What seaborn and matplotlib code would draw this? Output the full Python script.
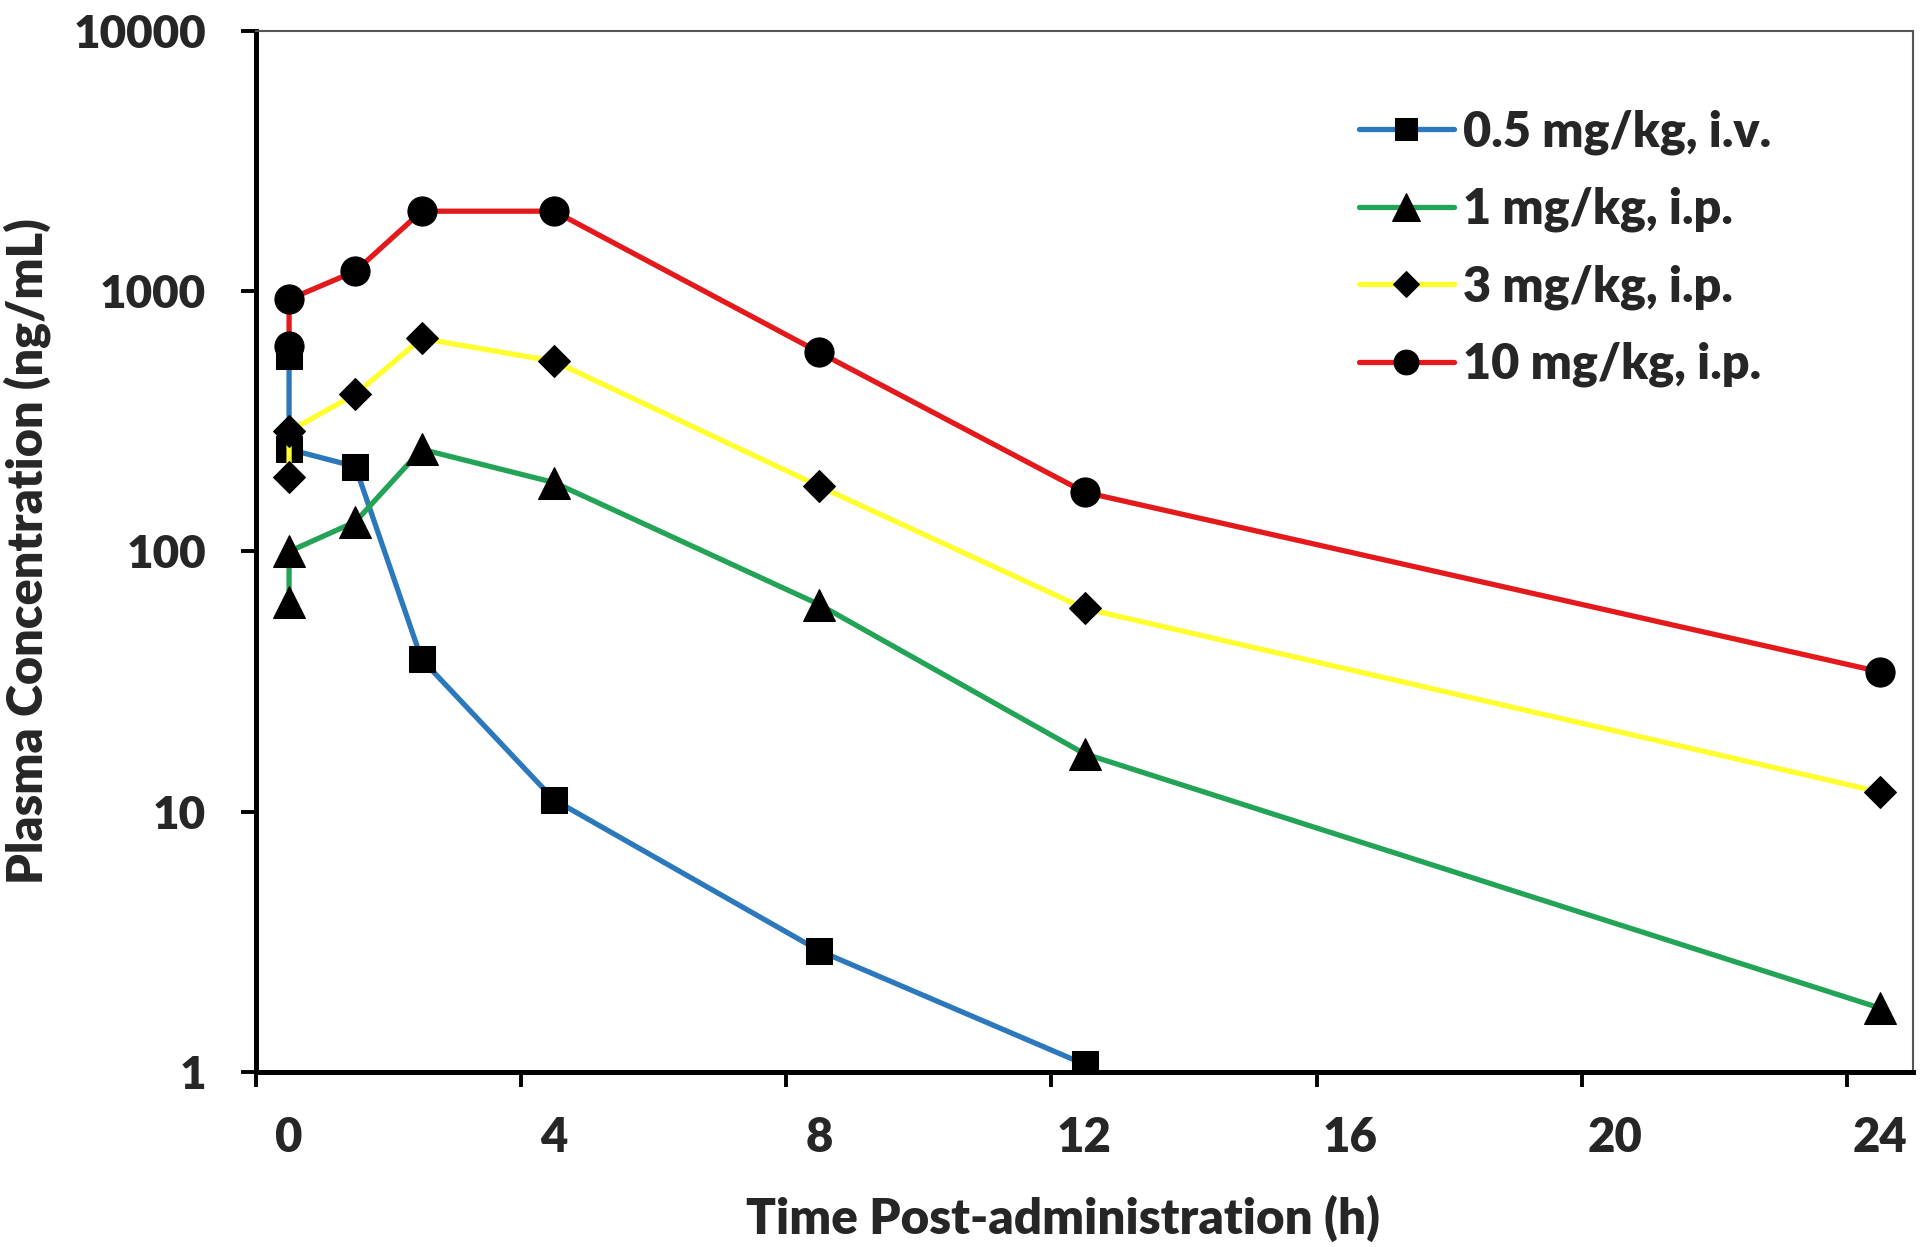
import numpy as np
import pandas as pd
import matplotlib
matplotlib.use("Agg")
import matplotlib.pyplot as plt
import seaborn as sns
from matplotlib.ticker import FixedLocator, NullFormatter

# sampling times (h); the two earliest samples sit at the same spot on the axis
time_iv = [0, 0, 1, 2, 4, 8, 12]
time_ip = [0, 0, 1, 2, 4, 8, 12, 24]

# plasma concentration (ng/mL)
conc_05_iv = [562, 247, 212, 38.5, 11.1, 2.92, 1.07]
conc_1_ip = [64, 100, 130, 247, 184, 62.5, 16.7, 1.76]
conc_3_ip = [193, 290, 402, 659, 538, 178, 60.4, 11.9]
conc_10_ip = [614, 931, 1194, 2031, 2031, 582, 169, 34.5]

labels = ["0.5 mg/kg, i.v.", "1 mg/kg, i.p.", "3 mg/kg, i.p.", "10 mg/kg, i.p."]
colors = ["#2B78BD", "#22A356", "#FFFF30", "#E3191C"]
markers = ["s", "^", "D", "o"]
msizes = [19, 23, 16, 21]

x_labels = ["0", "4", "8", "12", "16", "20", "24"]
y_ticks = [1, 10, 100, 1000, 10000]

sns.set_theme(style="white")
plt.rcParams["font.family"] = ["Lato", "DejaVu Sans"]
plt.rcParams["font.weight"] = "bold"

def main():
    fig = plt.figure(figsize=(19.2, 12.47), dpi=100)
    ax = fig.add_axes([0.1333, 0.1404, 0.8631, 0.8347])

    series = [(time_iv, conc_05_iv), (time_ip, conc_1_ip),
              (time_ip, conc_3_ip), (time_ip, conc_10_ip)]
    for (t, c), lab, col, mk, ms in zip(series, labels, colors, markers, msizes):
        df = pd.DataFrame({"time": t, "conc": c})
        sns.lineplot(data=df, x="time", y="conc", ax=ax, color=col, lw=3.8,
                     marker=mk, markersize=ms, markerfacecolor="black",
                     markeredgecolor="black", estimator=None, sort=False,
                     label=lab)

    ax.set_yscale("log")
    ax.set_ylim(1, 10000)
    ax.set_xlim(-0.5, 24.5)

    ax.yaxis.set_major_locator(FixedLocator(y_ticks))
    ax.set_yticklabels([str(v) for v in y_ticks])
    ax.yaxis.set_minor_locator(FixedLocator([]))
    ax.tick_params(axis="y", which="major", direction="out", length=11,
                   width=2.8, pad=25, labelsize=33, left=True, color="black")

    ax.set_xticks([0, 4, 8, 12, 16, 20, 24])
    ax.set_xticklabels(x_labels)
    ax.xaxis.set_minor_locator(FixedLocator([-0.5 + 4 * k for k in range(7)]))
    ax.xaxis.set_minor_formatter(NullFormatter())
    ax.tick_params(axis="x", which="major", length=0, pad=32, labelsize=34)
    ax.tick_params(axis="x", which="minor", direction="out", length=11,
                   width=2.8, bottom=True, color="black")

    for lbl in ax.get_xticklabels() + ax.get_yticklabels():
        lbl.set_fontweight("heavy")

    for side in ["left", "bottom"]:
        ax.spines[side].set_color("black")
        ax.spines[side].set_linewidth(3.6)
    for side in ["top", "right"]:
        ax.spines[side].set_color("#555555")
        ax.spines[side].set_linewidth(1.5)
    ax.grid(False)

    ax.set_xlabel("Time Post-administration (h)", fontsize=35.5, fontweight="heavy")
    ax.xaxis.set_label_coords(0.487, -0.118)
    ax.set_ylabel("Plasma Concentration (ng/mL)", fontsize=35, fontweight="heavy",
                  labelpad=16)

    leg = ax.legend(loc="upper right", bbox_to_anchor=(0.941, 0.967), frameon=False,
                    fontsize=35, handlelength=1.95, handletextpad=0.2,
                    labelspacing=0.66, markerscale=0.85)
    for t in leg.get_texts():
        t.set_fontweight("heavy")

    fig.savefig("out.png", dpi=100, facecolor="white")

if __name__ == "__main__":
    main()
